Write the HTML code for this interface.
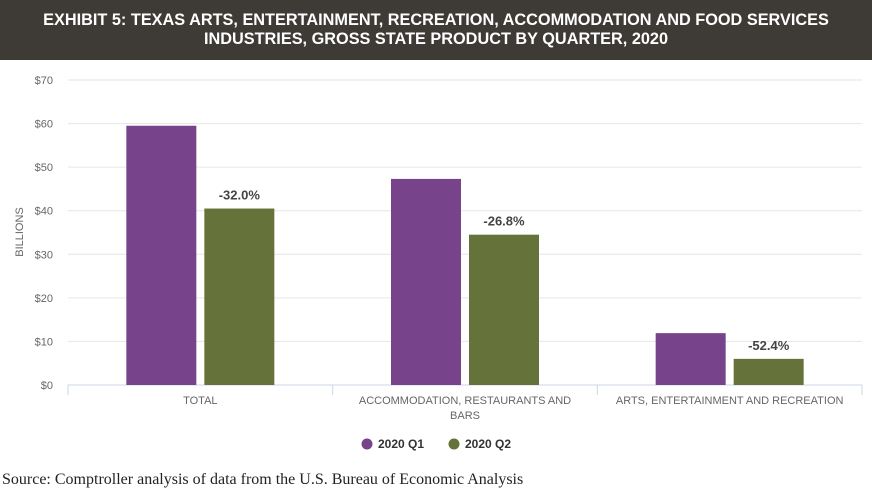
<!DOCTYPE html>
<html><head><meta charset="utf-8"><style>
body{margin:0;width:872px;height:491px;background:#fff;font-family:"Liberation Sans",sans-serif;overflow:hidden;position:relative}
#hdr{position:absolute;left:0;top:0;width:872px;height:60px;background:#3e3a36;color:#fff;font-weight:bold;font-size:16.3px;text-align:center;line-height:19px;padding-top:11px;box-sizing:border-box;white-space:nowrap}
#src{position:absolute;left:2px;top:471px;font-family:"Liberation Serif",serif;font-size:16px;color:#222;white-space:nowrap}
</style></head><body>
<div id="hdr">EXHIBIT 5: TEXAS ARTS, ENTERTAINMENT, RECREATION, ACCOMMODATION AND FOOD SERVICES<br>INDUSTRIES, GROSS STATE PRODUCT BY QUARTER, 2020</div>
<svg id="chart" width="872" height="470" style="position:absolute;left:0;top:0"></svg>
<div id="src">Source: Comptroller analysis of data from the U.S. Bureau of Economic Analysis</div>
<script>
const categories=[["TOTAL"],["ACCOMMODATION, RESTAURANTS AND","BARS"],["ARTS, ENTERTAINMENT AND RECREATION"]];
const q1=[59.5,47.3,11.9];
const q2=[40.5,34.5,6.0];
const changeLabels=["-32.0%","-26.8%","-52.4%"];
const ticks=[0,10,20,30,40,50,60,70];
const seriesNames=["2020 Q1","2020 Q2"];
const colors=["#77438a","#65733b"];
const svg=document.getElementById('chart');const NS="http://www.w3.org/2000/svg";
function mk(t,a,p){const e=document.createElementNS(NS,t);for(const k in a)e.setAttribute(k,a[k]);(p||svg).appendChild(e);return e;}
const X0=68,X1=862,Y0=385,Y1=80,MAX=70;
const y=v=>Y0-(v/MAX)*(Y0-Y1);
const cw=(X1-X0)/categories.length;
ticks.forEach(t=>{
 const g=mk('line',{x1:X0,x2:X1,y1:y(t),y2:y(t),stroke:t===0?'#ccd6eb':'#e6e6e6','stroke-width':1});
 
 const l=mk('text',{x:53,y:y(t)+4,'text-anchor':'end','font-size':11,fill:'#666'});l.textContent='$'+t;
 
});
const yt=mk('text',{x:23,y:232,'text-anchor':'middle','font-size':11,fill:'#666',transform:'rotate(-90 23 232)'});yt.textContent='BILLIONS';

for(let i=0;i<=categories.length;i++){const tk=mk('line',{x1:X0+i*cw,x2:X0+i*cw,y1:Y0,y2:Y0+10,stroke:'#ccd6eb'});}
categories.forEach((c,i)=>{
 const cx=X0+cw*(i+0.5);
 [q1[i],q2[i]].forEach((v,s)=>{
  const bx=s===0?cx-74:cx+4;
  const r=mk('rect',{x:bx,y:y(v),width:70,height:Y0-y(v),fill:colors[s]});
  
 });
 const dl=mk('text',{x:cx+39,y:y(q2[i])-9,'text-anchor':'middle','font-size':13,'font-weight':'bold',fill:'#444'});dl.textContent=changeLabels[i];
 
 c.forEach((ln,j)=>{const t=mk('text',{x:cx,y:404+j*15,'text-anchor':'middle','font-size':11,fill:'#666'});t.textContent=ln;
 });
});
const lx=[367,454];
seriesNames.forEach((n,s)=>{
 const c=mk('circle',{cx:lx[s],cy:444,r:5.5,fill:colors[s]});
 const t=mk('text',{x:lx[s]+11,y:448,'font-size':12,'font-weight':'bold',fill:'#333'});t.textContent=n;
 
});
</script>
</body></html>
